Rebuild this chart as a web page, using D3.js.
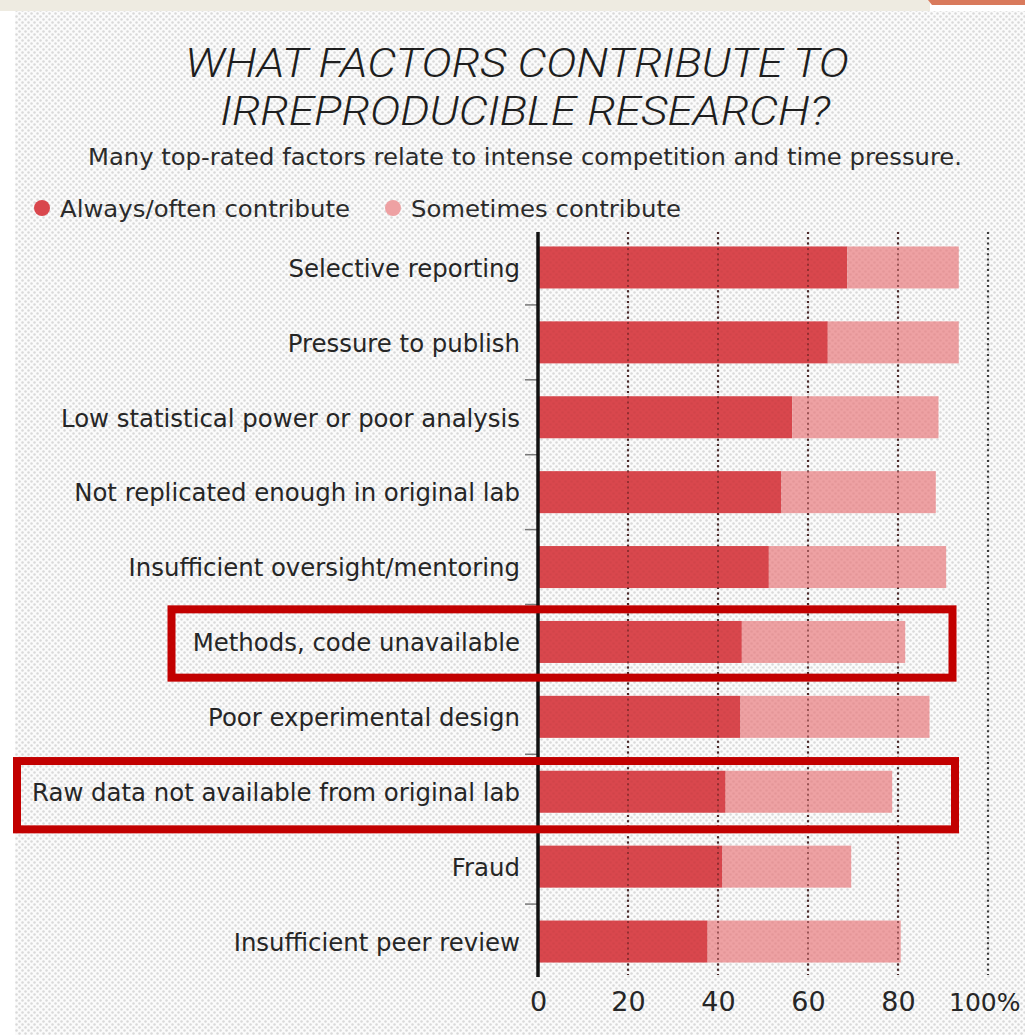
<!DOCTYPE html>
<html>
<head>
<meta charset="utf-8">
<script src="https://cdn.jsdelivr.net/npm/d3@7"></script>
<style>
  html, body { margin: 0; padding: 0; background: #ffffff; }
  svg { display: block; }
</style>
</head>
<body>
<svg id="chart" width="1025" height="1035"></svg>
<script>
// Survey responses: share of researchers (%) naming each factor
const categories = [
  "Selective reporting",
  "Pressure to publish",
  "Low statistical power or poor analysis",
  "Not replicated enough in original lab",
  "Insufficient oversight/mentoring",
  "Methods, code unavailable",
  "Poor experimental design",
  "Raw data not available from original lab",
  "Fraud",
  "Insufficient peer review"
];
const alwaysOften = [68.7, 64.4, 56.5, 54.1, 51.3, 45.3, 45.0, 41.7, 41.0, 37.7];
const sometimes   = [24.8, 29.1, 32.5, 34.3, 39.4, 36.3, 42.0, 37.0, 28.6, 42.9];
const xTicks = [0, 20, 40, 60, 80, 100];
const seriesNames = ["Always/often contribute", "Sometimes contribute"];
const highlighted = ["Methods, code unavailable", "Raw data not available from original lab"];

const titleLines = ["WHAT FACTORS CONTRIBUTE TO", "IRREPRODUCIBLE RESEARCH?"];
const subtitle = "Many top-rated factors relate to intense competition and time pressure.";

const colors = { always: "#d9474d", sometimes: "#eea1a3" };
const labelFont = "'DejaVu Sans', 'Liberation Sans', sans-serif";

const svg = d3.select("#chart");
const W = 1025, H = 1035;

// ---- page background: halftone panel, top strip ----
const defs = svg.append("defs");
const bgPat = defs.append("pattern").attr("id", "halftone")
  .attr("width", 6).attr("height", 6).attr("patternUnits", "userSpaceOnUse");
bgPat.append("rect").attr("width", 6).attr("height", 6).attr("fill", "#fbfbfb");
bgPat.append("circle").attr("cx", 1.5).attr("cy", 1.5).attr("r", 1.25).attr("fill", "#d9d9d9");
bgPat.append("circle").attr("cx", 4.5).attr("cy", 4.5).attr("r", 1.25).attr("fill", "#d9d9d9");

const barPat = defs.append("pattern").attr("id", "barDots")
  .attr("width", 6).attr("height", 6).attr("patternUnits", "userSpaceOnUse");
barPat.append("circle").attr("cx", 1.5).attr("cy", 1.5).attr("r", 1.3).attr("fill", "rgba(120,20,20,0.08)");
barPat.append("circle").attr("cx", 4.5).attr("cy", 4.5).attr("r", 1.3).attr("fill", "rgba(120,20,20,0.08)");

svg.append("rect").attr("x", 0).attr("y", 0).attr("width", W).attr("height", H).attr("fill", "#ffffff");
svg.append("rect").attr("x", 15).attr("y", 11).attr("width", W - 15).attr("height", H - 11).attr("fill", "url(#halftone)");
svg.append("rect").attr("x", 0).attr("y", 0).attr("width", 930).attr("height", 11).attr("fill", "#eeebe1");
svg.append("path").attr("d", "M928,0 L1025,0 L1025,5 L932,5 Z").attr("fill", "#d97a5c");

// ---- titles ----
const titleG = svg.append("g").attr("font-family", "Roboto, 'Liberation Sans', sans-serif")
  .attr("font-style", "italic").attr("font-weight", 300).attr("fill", "#1e1e1e");
titleG.append("text").attr("x", 517).attr("y", 77).attr("text-anchor", "middle")
  .attr("font-size", 40.5).attr("textLength", 664).attr("lengthAdjust", "spacingAndGlyphs")
  .text(titleLines[0]);
titleG.append("text").attr("x", 525).attr("y", 125).attr("text-anchor", "middle")
  .attr("font-size", 40.5).attr("textLength", 610).attr("lengthAdjust", "spacingAndGlyphs")
  .text(titleLines[1]);

svg.append("text").attr("x", 525).attr("y", 165).attr("text-anchor", "middle")
  .attr("font-family", labelFont).attr("font-size", 23).attr("fill", "#2b2b2b")
  .attr("textLength", 874).attr("lengthAdjust", "spacingAndGlyphs")
  .text(subtitle);

// ---- legend ----
const legend = svg.append("g").attr("font-family", labelFont).attr("font-size", 23).attr("fill", "#2b2b2b");
const legendItems = [
  { name: seriesNames[0], color: colors.always, x: 42, w: 290 },
  { name: seriesNames[1], color: colors.sometimes, x: 393, w: 270 }
];
legendItems.forEach(d => {
  legend.append("circle").attr("cx", d.x).attr("cy", 208).attr("r", 8).attr("fill", d.color);
  legend.append("text").attr("x", d.x + 18).attr("y", 217)
    .attr("textLength", d.w).attr("lengthAdjust", "spacingAndGlyphs").text(d.name);
});

// ---- scales ----
const x = d3.scaleLinear().domain([0, 100]).range([538, 988]);
const y = d3.scaleBand().domain(categories).range([232, 977])
  .paddingInner(0.439).paddingOuter(0.193);

const rows = categories.map((c, i) => ({ category: c, always: alwaysOften[i], sometimes: sometimes[i] }));
const stacked = d3.stack().keys(["always", "sometimes"])(rows);

// ---- gridlines (dotted) ----
svg.append("g").selectAll("line").data(xTicks.filter(t => t > 0)).join("line")
  .attr("x1", d => x(d)).attr("x2", d => x(d))
  .attr("y1", 232).attr("y2", 975)
  .attr("stroke", "#3a3a3a").attr("stroke-width", 2.2)
  .attr("stroke-dasharray", "2,3.3");

// ---- bars ----
const barG = svg.append("g");
barG.selectAll("g").data(stacked).join("g")
  .attr("fill", s => colors[s.key])
  .selectAll("rect").data(s => s).join("rect")
  .attr("x", d => x(d[0]))
  .attr("y", d => y(d.data.category))
  .attr("width", d => x(d[1]) - x(d[0]))
  .attr("height", y.bandwidth());

// halftone grain over the bars
barG.append("g").selectAll("rect").data(rows).join("rect")
  .attr("x", x(0))
  .attr("y", d => y(d.category))
  .attr("width", d => x(d.always + d.sometimes) - x(0))
  .attr("height", y.bandwidth())
  .attr("fill", "url(#barDots)");

// gridlines show through the bars faintly
svg.append("g").selectAll("line").data(xTicks.filter(t => t > 0 && t < 100)).join("line")
  .attr("x1", d => x(d)).attr("x2", d => x(d))
  .attr("y1", 232).attr("y2", 975)
  .attr("stroke", "#5a1a1a").attr("stroke-opacity", 0.55).attr("stroke-width", 2)
  .attr("stroke-dasharray", "2,3.3");

// ---- y axis: labels, separators, baseline ----
const yAxis = d3.axisLeft(y).tickSize(0).tickPadding(18);
const yG = svg.append("g").attr("transform", `translate(${x(0)},0)`).call(yAxis);
yG.select(".domain").remove();
yG.selectAll("text")
  .attr("font-family", labelFont).attr("font-size", 24.4).attr("fill", "#262626")
  .attr("dy", "0.38em");

// short separators between rows
const seps = categories.slice(1).map(c => y(c) - (y.step() - y.bandwidth()) / 2);
svg.append("g").selectAll("line").data(seps).join("line")
  .attr("x1", x(0) - 13).attr("x2", x(0))
  .attr("y1", d => d).attr("y2", d => d)
  .attr("stroke", "#777").attr("stroke-width", 1.5);

svg.append("line").attr("x1", x(0)).attr("x2", x(0)).attr("y1", 232).attr("y2", 977)
  .attr("stroke", "#111").attr("stroke-width", 3.5);

// ---- x axis labels ----
const xAxis = d3.axisBottom(x).tickValues(xTicks).tickSize(0).tickPadding(0)
  .tickFormat(d => d === 100 ? "100%" : String(d));
const xG = svg.append("g").attr("transform", "translate(0,1011)").call(xAxis);
xG.select(".domain").remove();
xG.selectAll("text")
  .attr("font-family", labelFont).attr("font-size", 27).attr("fill", "#262626")
  .attr("dy", 0).attr("y", 0);
// the last label sits against the right edge: keep it inside the page
xG.selectAll(".tick").filter(d => d === 100).select("text")
  .attr("text-anchor", "end").attr("x", 1020 - x(100))
  .attr("font-size", 25);

// ---- highlight frames around two rows ----
const frames = [
  { cat: highlighted[0], x0: 171.5, x1: 952.5, top: 11.6, bottom: 14.7 },
  { cat: highlighted[1], x0: 17, x1: 955, top: 9.7, bottom: 16.6 }
];
svg.append("g").selectAll("rect").data(frames).join("rect")
  .attr("x", d => d.x0)
  .attr("y", d => y(d.cat) - d.top)
  .attr("width", d => d.x1 - d.x0)
  .attr("height", d => y.bandwidth() + d.top + d.bottom)
  .attr("fill", "none").attr("stroke", "#c20000").attr("stroke-width", 8);
</script>
</body>
</html>
